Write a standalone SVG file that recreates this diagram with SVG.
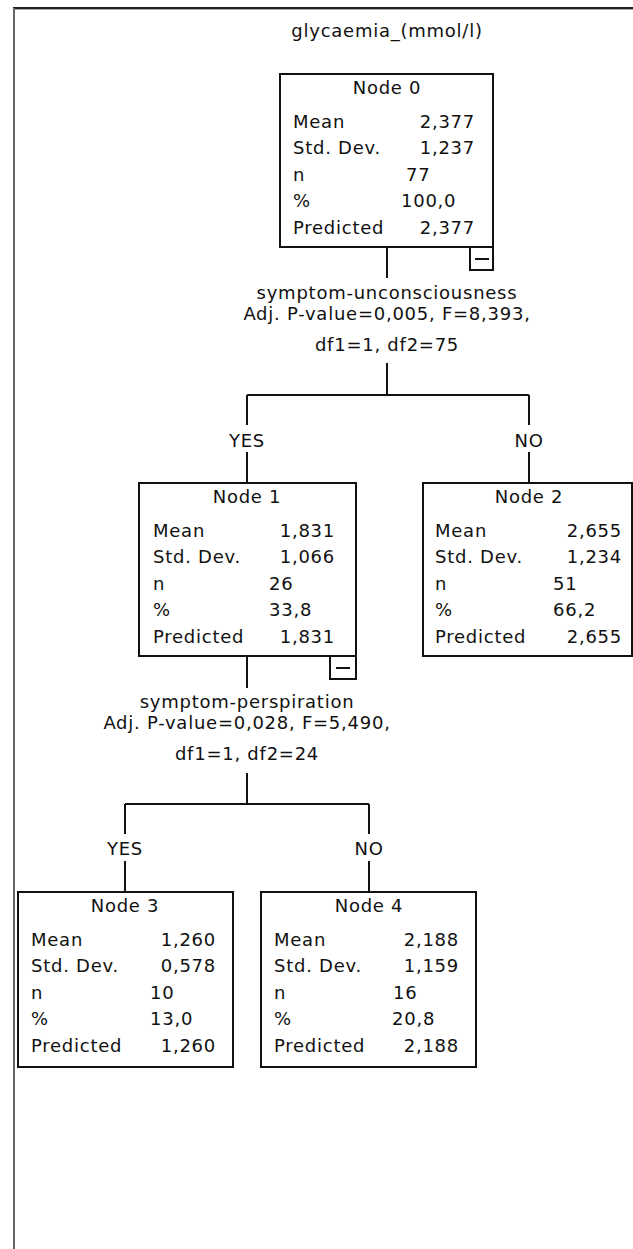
<svg xmlns="http://www.w3.org/2000/svg" width="633" height="1249" viewBox="0 0 633 1249">
<style>
text{font-family:"DejaVu Sans","Liberation Sans",sans-serif;font-size:18px;letter-spacing:0.75px;fill:#111}
.c{text-anchor:middle}
.e{text-anchor:end}
.box{fill:#fff;stroke:#111;stroke-width:2}
.ln{stroke:#111;stroke-width:2;fill:none}
</style>
<rect x="0" y="0" width="633" height="1249" fill="#fff"/>
<g id="frame">
<rect x="13" y="7" width="620" height="2" fill="#222"/>
<rect x="13" y="9" width="620" height="1" fill="#aaa"/>
<rect x="13" y="8" width="2" height="1241" fill="#666"/>
</g>
<text id="title" class="c" x="387" y="37">glycaemia_(mmol/l)</text>
<g id="connectors">
<path class="ln" d="M387 247V278M387 363V395M247 395H529M247 395V425M529 395V425M247 452V483M529 452V483"/>
<path class="ln" d="M247 656V688M247 773V804M125 804H369M125 804V834M369 804V834M125 861V892M369 861V892"/>
<g id="split1">
<text class="c" x="387" y="299">symptom-unconsciousness</text>
<text class="c" x="387" y="320">Adj. P-value=0,005, F=8,393,</text>
<text class="c" x="387" y="351">df1=1, df2=75</text>
</g>
<text class="c" x="247" y="447">YES</text>
<text class="c" x="529" y="447">NO</text>
<g id="split2">
<text class="c" x="247" y="708">symptom-perspiration</text>
<text class="c" x="247" y="729">Adj. P-value=0,028, F=5,490,</text>
<text class="c" x="247" y="760">df1=1, df2=24</text>
</g>
<text class="c" x="125" y="855">YES</text>
<text class="c" x="369" y="855">NO</text>
</g>
<g id="node0">
<rect class="box" x="280" y="74" width="213" height="173"/>
<text class="c" x="387" y="94">Node 0</text>
<text x="293" y="127.5">Mean</text><text class="e" x="475" y="127.5">2,377</text>
<text x="293" y="154">Std. Dev.</text><text class="e" x="475" y="154">1,237</text>
<text x="293" y="180.5">n</text><text x="406" y="180.5">77</text>
<text x="293" y="207">%</text><text x="401" y="207">100,0</text>
<text x="293" y="234">Predicted</text><text class="e" x="475" y="234">2,377</text>
<rect class="box" x="470" y="247" width="23" height="23"/>
<path class="ln" d="M475 259H489"/>
</g>
<g id="node1">
<rect class="box" x="139" y="483" width="217" height="173"/>
<text class="c" x="247" y="503">Node 1</text>
<text x="153" y="536.5">Mean</text><text class="e" x="335" y="536.5">1,831</text>
<text x="153" y="563">Std. Dev.</text><text class="e" x="335" y="563">1,066</text>
<text x="153" y="589.5">n</text><text x="269" y="589.5">26</text>
<text x="153" y="616">%</text><text x="269" y="616">33,8</text>
<text x="153" y="643">Predicted</text><text class="e" x="335" y="643">1,831</text>
<rect class="box" x="330" y="656" width="26" height="23"/>
<path class="ln" d="M336 668H350"/>
</g>
<g id="node2">
<rect class="box" x="423" y="483" width="209" height="173"/>
<text class="c" x="529" y="503">Node 2</text>
<text x="435" y="536.5">Mean</text><text class="e" x="622" y="536.5">2,655</text>
<text x="435" y="563">Std. Dev.</text><text class="e" x="622" y="563">1,234</text>
<text x="435" y="589.5">n</text><text x="553" y="589.5">51</text>
<text x="435" y="616">%</text><text x="553" y="616">66,2</text>
<text x="435" y="643">Predicted</text><text class="e" x="622" y="643">2,655</text>
</g>
<g id="node3">
<rect class="box" x="18" y="892" width="215" height="175"/>
<text class="c" x="125" y="912">Node 3</text>
<text x="31" y="945.5">Mean</text><text class="e" x="216" y="945.5">1,260</text>
<text x="31" y="972">Std. Dev.</text><text class="e" x="216" y="972">0,578</text>
<text x="31" y="998.5">n</text><text x="150" y="998.5">10</text>
<text x="31" y="1025">%</text><text x="150" y="1025">13,0</text>
<text x="31" y="1052">Predicted</text><text class="e" x="216" y="1052">1,260</text>
</g>
<g id="node4">
<rect class="box" x="261" y="892" width="215" height="175"/>
<text class="c" x="369" y="912">Node 4</text>
<text x="274" y="945.5">Mean</text><text class="e" x="459" y="945.5">2,188</text>
<text x="274" y="972">Std. Dev.</text><text class="e" x="459" y="972">1,159</text>
<text x="274" y="998.5">n</text><text x="393" y="998.5">16</text>
<text x="274" y="1025">%</text><text x="392" y="1025">20,8</text>
<text x="274" y="1052">Predicted</text><text class="e" x="459" y="1052">2,188</text>
</g>
</svg>
